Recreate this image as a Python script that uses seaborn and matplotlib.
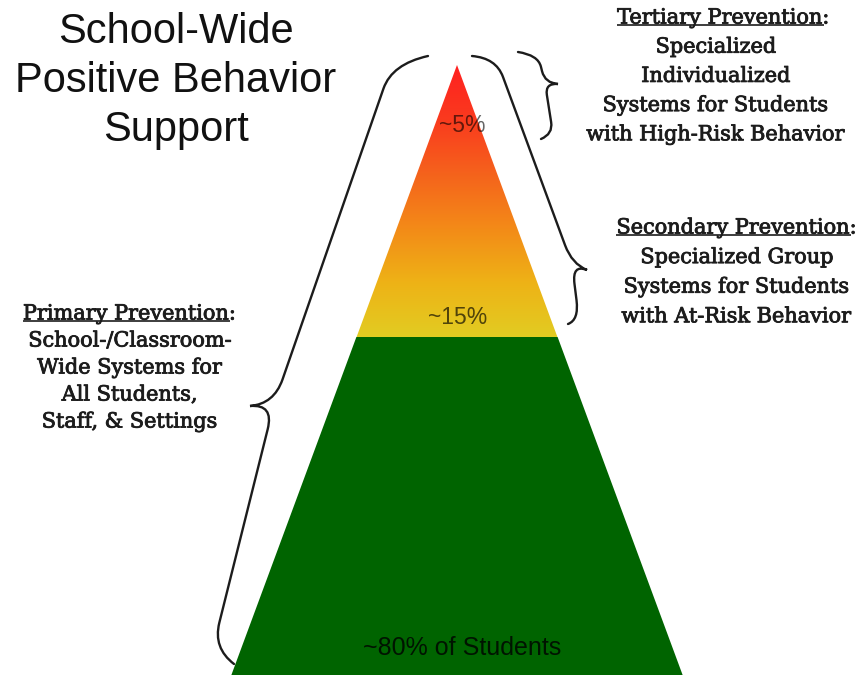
import numpy as np
import matplotlib.pyplot as plt
import matplotlib.patheffects as pe
import seaborn as sns
from matplotlib.path import Path
from matplotlib.patches import PathPatch, Polygon

# chart content
title_lines = ["School-Wide", "Positive Behavior", "Support"]
tiers = ["Tertiary", "Secondary", "Primary"]
tier_shares = ["~5%", "~15%", "~80% of Students"]
tier_headings = ["Tertiary Prevention", "Secondary Prevention", "Primary Prevention"]
tier_descriptions = [
    ["Specialized", "Individualized", "Systems for Students", "with High-Risk Behavior"],
    ["Specialized Group", "Systems for Students", "with At-Risk Behavior"],
    ["School-/Classroom-", "Wide Systems for", "All Students,", "Staff, & Settings"],
]
top_gradient = ["#ff2020", "#fa3a1e", "#f5621c", "#f38a18", "#eeb216", "#e2cc22"]
base_color = "#006400"

sns.set_theme(style="white")
plt.rcParams['font.family'] = ['Liberation Sans', 'DejaVu Sans']
serif = ['DejaVu Serif']
ink = "#1c1c1c"
thick = [pe.withStroke(linewidth=0.6, foreground=ink)]

W, H = 862, 675
fig = plt.figure(figsize=(W / 100, H / 100), dpi=100)
ax = fig.add_axes([0, 0, 1, 1])

# pyramid layout (pixel units)
apex_x, apex_y = 457, 65
base_y, base_half = 676, 226
split_y = 337


def half_width(y):
    return (y - apex_y) / (base_y - apex_y) * base_half


# bottom tier: green trapezoid
hw = half_width(split_y)
ax.fill([apex_x - hw, apex_x + hw, apex_x + base_half, apex_x - base_half],
        [split_y, split_y, base_y, base_y], color=base_color, lw=0)

# upper tiers: red -> yellow gradient clipped to the triangle
cmap = sns.blend_palette(top_gradient, as_cmap=True)
grad = np.linspace(0, 1, 256).reshape(-1, 1)
im = ax.imshow(grad, cmap=cmap, aspect='auto', origin='upper',
               extent=(apex_x - hw, apex_x + hw, split_y + 0.5, apex_y))
tri = Polygon([[apex_x, apex_y], [apex_x + hw, split_y + 0.5], [apex_x - hw, split_y + 0.5]],
              closed=True, transform=ax.transData, facecolor='none', edgecolor='none')
ax.add_patch(tri)
im.set_clip_path(tri)

ax.set_xlim(0, W)
ax.set_ylim(H, 0)
ax.axis('off')

# share labels inside the pyramid
share_pos = [(462, 125), (458, 318), (462, 648)]
share_size = [16.5, 16.5, 18]
share_alpha = [0.6, 0.65, 0.8]
for lab, (x, y), s, a in zip(tier_shares, share_pos, share_size, share_alpha):
    ax.text(x, y, lab, ha='center', va='center', fontsize=s, color='black', alpha=a)

# title
for line, y in zip(title_lines, [43, 92, 141]):
    ax.text(176, y, line, ha='center', va='baseline', fontsize=30, color='#111111')

renderer = fig.canvas.get_renderer()
inv = ax.transData.inverted()


def heading(x, y, text, size):
    t = ax.text(x, y, text + ":", ha='center', va='center', fontsize=size,
                family=serif, color=ink, path_effects=thick)
    bb = t.get_window_extent(renderer)
    c = ax.text(0, 0, ":", fontsize=size, family=serif)
    cw = c.get_window_extent(renderer).width
    c.remove()
    (x0, yu), (x1, _) = inv.transform([[bb.x0, bb.y0 + 2.5], [bb.x1 - cw, bb.y0]])
    ax.plot([x0, x1], [yu, yu], color=ink, lw=1.2, solid_capstyle='butt')


heading_x = [724, 737, 130]
block_pos = [(716, 18, 29.2), (737, 228, 29.6), (130, 314, 27.0)]
for head, desc, hx, (x, y0, step) in zip(tier_headings, tier_descriptions, heading_x, block_pos):
    heading(hx, y0, head, 15)
    for i, line in enumerate(desc):
        ax.text(x, y0 + (i + 1) * step, line, ha='center', va='center', fontsize=15,
                family=serif, color=ink, path_effects=thick)


def brace(hook0, top, mid, tip, bottom, hook1, r=16):
    hook0, top, mid, tip, bottom, hook1 = map(np.asarray, (hook0, top, mid, tip, bottom, hook1))
    u1 = mid - top
    l1 = np.hypot(*u1)
    u1 = u1 / l1
    u2 = bottom - mid
    l2 = np.hypot(*u2)
    u2 = u2 / l2
    r1, r2 = min(r, 0.45 * l1), min(r, 0.45 * l2)
    A, B = top + r1 * u1, mid - r1 * u1
    C, D = mid + r2 * u2, bottom - r2 * u2
    verts = [hook0, top, A, B, mid, tip, mid, C, D, bottom, hook1]
    codes = [Path.MOVETO, Path.CURVE3, Path.CURVE3, Path.LINETO, Path.CURVE3, Path.CURVE3,
             Path.CURVE3, Path.CURVE3, Path.LINETO, Path.CURVE3, Path.CURVE3]
    ax.add_patch(PathPatch(Path(verts, codes), fill=False, lw=1.7, ec=ink, capstyle='round'))


# braces: tertiary, secondary, primary
brace((518, 52), (538, 55), (545, 83), (558, 84), (553, 134), (541, 139), r=12)
brace((472, 56), (496, 58), (572, 264), (587, 270), (579, 320), (568, 324), r=20)
brace((428, 56), (392, 64), (274, 404), (250, 406), (213, 648), (234, 664), r=26)

fig.savefig('out.png', dpi=100)
